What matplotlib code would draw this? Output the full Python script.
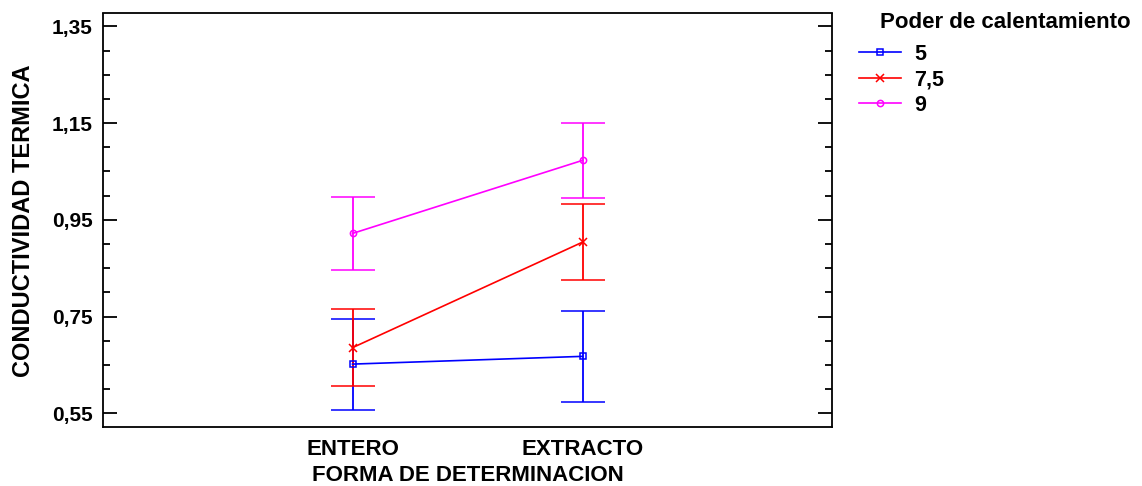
import matplotlib
matplotlib.use("Agg")
import matplotlib.pyplot as plt
from matplotlib.ticker import MultipleLocator, FixedLocator, FuncFormatter
from matplotlib.lines import Line2D

plt.rcParams['font.family'] = ['Liberation Sans', 'DejaVu Sans']
plt.rcParams['font.weight'] = 'bold'

categories = ["ENTERO", "EXTRACTO"]
series_labels = ["5", "7,5", "9"]
means = {
    "5":   [0.652, 0.668],
    "7,5": [0.686, 0.904],
    "9":   [0.922, 1.073],
}
errors = {
    "5":   [0.094, 0.094],
    "7,5": [0.080, 0.078],
    "9":   [0.075, 0.078],
}
colors = {"5": "#0000FF", "7,5": "#FF0000", "9": "#FF00FF"}
markers = {"5": "s", "7,5": "x", "9": "o"}
y_ticks = [0.55, 0.75, 0.95, 1.15, 1.35]

W, H = 1142, 486
fig = plt.figure(figsize=(W / 100, H / 100), dpi=100)
L, R, T, B = 103.3, 832.3, 13.5, 427.3
ax = fig.add_axes([L / W, 1 - B / H, (R - L) / W, (B - T) / H])

x = [1, 2]
for s in series_labels:
    c = colors[s]
    ax.errorbar(x, means[s], yerr=errors[s], color=c, lw=1.2, elinewidth=1.3,
                capsize=16, capthick=1.3, marker=markers[s],
                markersize=5.5 if s == "7,5" else 4.5,
                markerfacecolor='none', markeredgecolor=c, markeredgewidth=1.1,
                zorder=3)

ax.set_xlim(-0.0835, 3.086)
ax.set_ylim(0.5214, 1.3765)
ax.xaxis.set_major_locator(FixedLocator(x))
ax.set_xticklabels(categories)
ax.yaxis.set_major_locator(FixedLocator(y_ticks))
ax.yaxis.set_minor_locator(MultipleLocator(0.05))
ax.yaxis.set_major_formatter(FuncFormatter(lambda v, p: f"{v:.2f}".replace('.', ',')))

for sp in ax.spines.values():
    sp.set_linewidth(1.3)
ax.tick_params(axis='x', length=0, pad=8.5, labelsize=16)
ax.tick_params(axis='y', which='major', direction='in', length=10, width=1.3,
               left=True, right=True, pad=7.5, labelsize=15)
ax.tick_params(axis='y', which='minor', direction='in', length=5, width=1.3,
               left=True, right=True)
for lab in ax.get_xticklabels() + ax.get_yticklabels():
    lab.set_fontweight('bold')

ax.set_xlabel("FORMA DE DETERMINACION", fontsize=16, fontweight='bold')
ax.set_ylabel("CONDUCTIVIDAD TERMICA", fontsize=17, fontweight='bold')
ax.xaxis.label.set_va('center')
ax.yaxis.label.set_va('center')
ax.xaxis.set_label_coords(0.5, (B - 475) / (B - T))
ax.yaxis.set_label_coords((24 - L) / (R - L), 0.5)

# Legend
handles = [Line2D([0], [0], color=colors[s], lw=1.2, marker=markers[s],
                  markersize=5.5 if s == "7,5" else 4.5,
                  markerfacecolor='none', markeredgecolor=colors[s], markeredgewidth=1.1)
           for s in series_labels]
fig.text(880 / W, 1 - 23 / H, "Poder de calentamiento", fontsize=16, fontweight='bold',
         ha='left', va='center')
leg = fig.legend(handles, series_labels, loc='upper left',
                 bbox_to_anchor=(859 / W, 1 - 43.5 / H), frameon=False,
                 handlelength=1.95, handletextpad=0.6, labelspacing=0.22,
                 borderpad=0, borderaxespad=0,
                 prop={'size': 15.5, 'weight': 'bold'})

fig.savefig("out.png", dpi=100, facecolor='white')
